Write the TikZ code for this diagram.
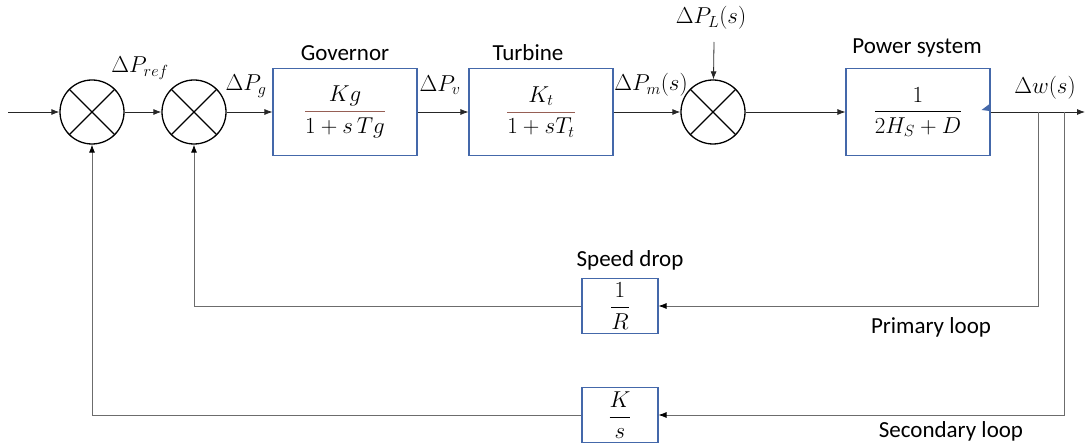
\RequirePackage{fix-cm}
\documentclass[tikz,border=0pt]{standalone}
\usepackage{amsmath}
\usepackage[no-math]{fontspec}
\setmainfont{Carlito}
\usetikzlibrary{arrows.meta, positioning, calc}
\definecolor{boxblue}{RGB}{68,104,170}
\definecolor{barbrown}{RGB}{150,95,85}
\newcommand{\mathsz}{\fontsize{23}{27}\selectfont}
\newcommand{\textsz}{\fontsize{23}{27}\selectfont}
\tikzset{
  sumnode/.style={circle, draw=black, line width=1.3pt, minimum size=64pt, inner sep=0pt},
  block/.style={rectangle, draw=boxblue, line width=1.1pt, minimum width=144pt,
                minimum height=87pt, inner sep=0pt, font=\mathsz},
  smallblock/.style={block, minimum width=76pt, minimum height=55pt},
  sig/.style={-{Latex[length=8pt,width=6pt]}, line width=0.8pt, draw=black!85},
  fb/.style={-{Latex[length=8pt,width=6pt,black]}, line width=0.8pt, draw=gray!85!black},
  siglabel/.style={font=\mathsz, inner sep=1pt},
  blocklabel/.style={font=\textsz, inner sep=1pt},
}

\begin{document}
\begin{tikzpicture}[x=1pt, y=-1pt]
  \useasboundingbox (0,0) rectangle (1086,446);

  %% ---- FORWARD PATH ----
  \node[sumnode] (sumref) at (92,112) {};
  \node[sumnode] (sumgov) at (194,112) {};
  \node[block] (gov) at (345,112)
    {$\color{barbrown}\dfrac{\color{black}Kg}{\color{black}1+s\,Tg}$};
  \node[block] (turb) at (541,112)
    {$\color{barbrown}\dfrac{\color{black}K_t}{\color{black}1+sT_t}$};
  \node[sumnode] (sumload) at (713,112) {};
  \node[block] (psys) at (918,112) {$\dfrac{1}{2H_S+D}$};

  \foreach \s in {sumref, sumgov, sumload} {
    \draw[line width=1.1pt] (\s.north west) -- (\s.south east);
    \draw[line width=1.1pt] (\s.north east) -- (\s.south west);
  }

  %% ---- FEEDBACK BLOCKS ----
  \node[smallblock] (droop) at (620,306) {$\dfrac{1}{R}$};
  \node[smallblock] (integ) at (620,415) {$\dfrac{K}{s}$};

  %% ---- LABELS ----
  \node[blocklabel] (govname) at (345,53) {Governor};
  \node[blocklabel] (turbname) at (528,53) {Turbine};
  \node[blocklabel] (psysname) at (917,48) {Power system};
  \node[blocklabel] (droopname) at (630,260) {Speed drop};
  \node[blocklabel] (primname) at (931,327) {Primary loop};
  \node[blocklabel] (secname) at (951,431) {Secondary loop};

  \node[siglabel] (lref) at (140,68) {$\Delta P_{ref}$};
  \node[siglabel] (lg) at (246,86) {$\Delta P_g$};
  \node[siglabel] (lv) at (440,85) {$\Delta P_v$};
  \node[siglabel] (lm) at (651,85) {$\Delta P_m(s)$};
  \node[siglabel] (lload) at (711,18) {$\Delta P_L(s)$};
  \node[siglabel] (lw) at (1045,88) {$\Delta w(s)$};

  %% ---- CONNECTORS ----
  \coordinate (in) at (8,112);
  \coordinate (out) at (1085,112);
  \coordinate (loadin) at (714,42);
  \coordinate (tapP) at (1038,112);
  \coordinate (tapS) at (1064,112);

  \draw[sig] (in) -- (sumref);
  \draw[sig] (sumref) -- (sumgov);
  \draw[sig] (sumgov) -- (gov);
  \draw[sig] (gov) -- (turb);
  \draw[sig] (turb) -- (sumload);
  \draw[sig] (sumload) -- (psys);
  \draw[sig] (psys) -- (out);
  \draw[sig] (loadin) -- (sumload);

  \draw[fb] (tapP) |- (droop);
  \draw[fb] (droop) -| (sumgov);
  \draw[fb] (tapS) |- (integ);
  \draw[fb] (integ) -| (sumref);

  \fill[boxblue] ($(psys.east)+(-1,-8)$) -- ++(0,7) -- ++(-8,-1) -- cycle;

\end{tikzpicture}
\end{document}
